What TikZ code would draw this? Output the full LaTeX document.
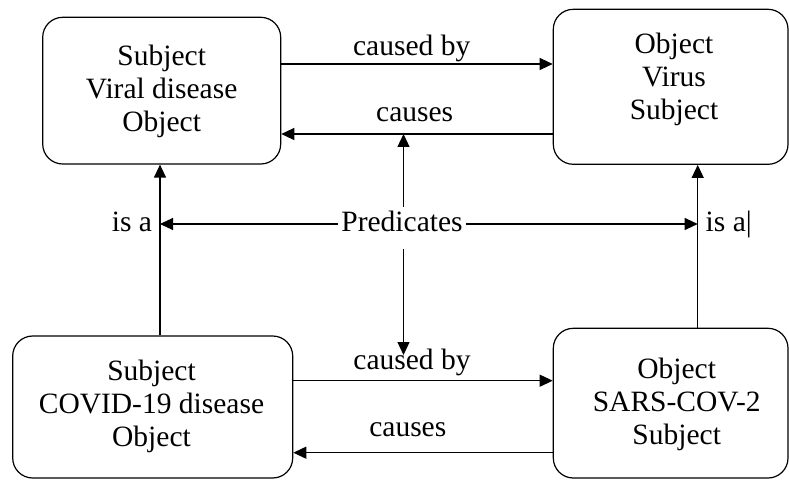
\documentclass[tikz,border=0pt]{standalone}
\usepackage{fontspec}
\setmainfont{Liberation Serif}
\usetikzlibrary{arrows.meta}
\begin{document}
\begin{tikzpicture}[x=1pt,y=-1pt,
  box/.style={draw, line width=1.2pt, rounded corners=20pt, inner sep=0pt},
  txt/.style={font=\fontsize{29.5}{33}\selectfont, align=center, inner sep=0pt},
  lbl/.style={font=\fontsize{29.5}{33}\selectfont, inner sep=0pt, anchor=base},
  arr/.style={line width=1.2pt, -{Triangle[length=13pt,width=12pt]}}]
\useasboundingbox (0,0) rectangle (789,481);
\fill[white] (0,0) rectangle (789,481);
% boxes
\node[box, minimum width=238pt, minimum height=146.7pt] (TL) at (161.7,90.65) {};
\node[box, minimum width=234.7pt, minimum height=155pt] (TR) at (670.65,86.8) {};
\node[box, minimum width=280pt, minimum height=142pt] (BL) at (152.7,407) {};
\node[box, minimum width=234.7pt, minimum height=149.7pt] (BR) at (670.65,403.15) {};
% box texts
\node[txt] (TLt) at (161.7,91) {Subject\\Viral disease\\Object};
\node[txt] (TRt) at (674,79) {Object\\Virus\\Subject};
\node[txt] (BLt) at (151.5,406) {Subject\\COVID-19 disease\\Object};
\node[txt] (BRt) at (676.7,404) {Object\\SARS-COV-2\\Subject};
% labels
\node[lbl] (cb1) at (411.7,56) {caused by};
\node[lbl] (cs1) at (414.7,121.7) {causes};
\node[lbl] (cb2) at (412,369) {caused by};
\node[lbl] (cs2) at (407.8,436.7) {causes};
\node[lbl] (isaL) at (132,231) {is a};
\node[lbl, anchor=base west] (isaR) at (705.5,231) {is a|};
\node[lbl, inner xsep=3.5pt, inner ysep=3.5pt] (P) at (402,231) {Predicates};
% helper coordinates
\coordinate (yA) at (0,64);
\coordinate (yB) at (0,134);
\coordinate (yC) at (0,380.7);
\coordinate (yD) at (0,452.7);
\coordinate (yH) at (0,224);
\coordinate (xL) at (160,0);
\coordinate (xR) at (697.7,0);
\coordinate (xM) at (403.5,0);
\coordinate (Pbot) at ([yshift=-14pt]P.south);
\coordinate (dTip) at (403.5,355);
% connectors
\draw[arr] (TL.east |- yA) -- (TR.west |- yA);
\draw[arr] (TR.west |- yB) -- (TL.east |- yB);
\draw[arr] (BL.east |- yC) -- (BR.west |- yC);
\draw[arr] (BR.west |- yD) -- (BL.east |- yD);
\draw[arr] (BL.north -| xL) -- (TL.south -| xL);
\draw[arr] (BR.north -| xR) -- (TR.south -| xR);
\draw[arr] (P.west |- yH) -- (xL |- yH);
\draw[arr] (P.east |- yH) -- (xR |- yH);
\draw[arr] (P.north -| xM) -- (xM |- yB);
\draw[arr] (Pbot -| xM) -- (dTip);
\end{tikzpicture}
\end{document}
